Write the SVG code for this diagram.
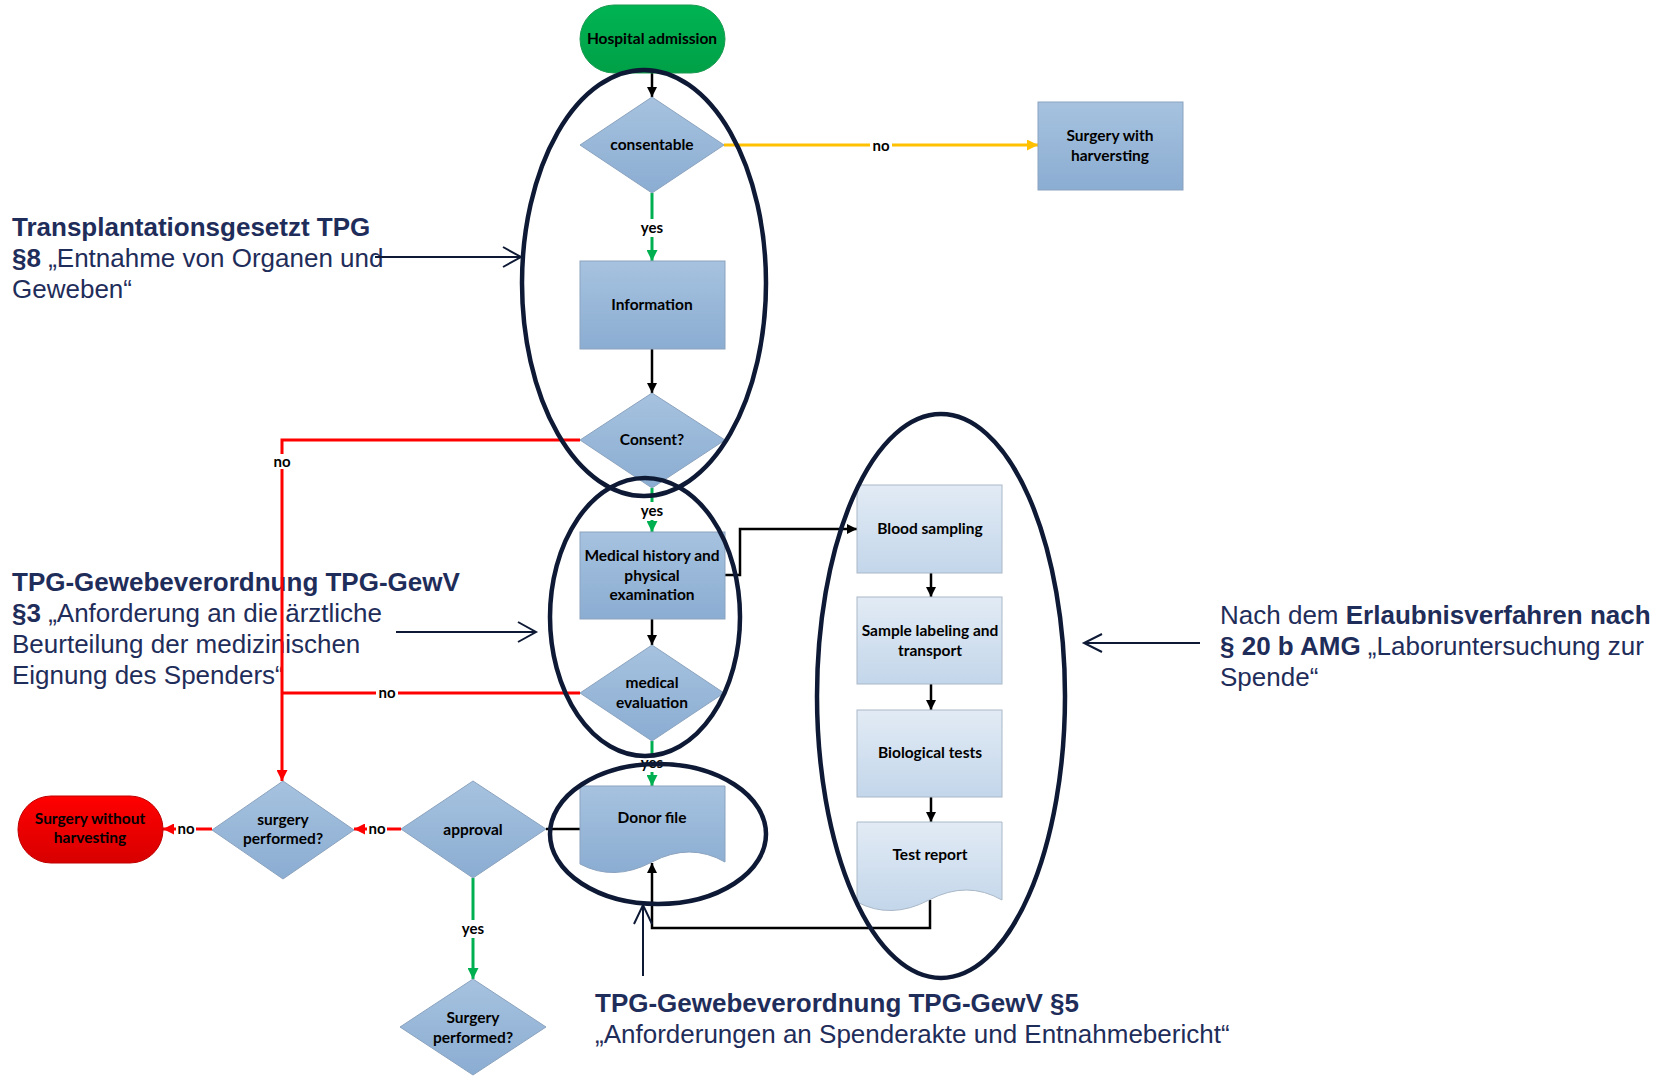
<svg xmlns="http://www.w3.org/2000/svg" width="1673" height="1076" viewBox="0 0 1673 1076">
<defs>
<linearGradient id="gBlue" x1="0" y1="0" x2="0" y2="1"><stop offset="0" stop-color="#a6c2df"/><stop offset="1" stop-color="#8badd2"/></linearGradient>
<linearGradient id="gLight" x1="0" y1="0" x2="0" y2="1"><stop offset="0" stop-color="#e2ebf5"/><stop offset="1" stop-color="#c3d6ea"/></linearGradient>
<linearGradient id="gGreen" x1="0" y1="0" x2="0" y2="1"><stop offset="0" stop-color="#00b453"/><stop offset="1" stop-color="#00a047"/></linearGradient>
<linearGradient id="gRed" x1="0" y1="0" x2="0" y2="1"><stop offset="0" stop-color="#ff0000"/><stop offset="1" stop-color="#d80000"/></linearGradient>
<marker id="mK" markerUnits="userSpaceOnUse" markerWidth="10" markerHeight="10" refX="10" refY="5" orient="auto"><path d="M0,0 L10,5 L0,10 Z" fill="#000"/></marker>
<marker id="mG" markerUnits="userSpaceOnUse" markerWidth="11" markerHeight="11" refX="11" refY="5.5" orient="auto"><path d="M0,0 L11,5.5 L0,11 Z" fill="#00b050"/></marker>
<marker id="mR" markerUnits="userSpaceOnUse" markerWidth="11" markerHeight="11" refX="11" refY="5.5" orient="auto"><path d="M0,0 L11,5.5 L0,11 Z" fill="#ff0000"/></marker>
<marker id="mY" markerUnits="userSpaceOnUse" markerWidth="11" markerHeight="11" refX="11" refY="5.5" orient="auto"><path d="M0,0 L11,5.5 L0,11 Z" fill="#ffc000"/></marker>
<style>
.h{font-family:"Liberation Sans",Arial,sans-serif;font-size:26px;fill:#1f2d5a}
.b{font-weight:700}
.t{font-family:Lato,"Liberation Sans",sans-serif;font-weight:700;font-size:15.5px;fill:#000;text-anchor:middle}
.lbl{font-family:Lato,"Liberation Sans",sans-serif;font-weight:700;font-size:15px;fill:#000;text-anchor:middle}
.lb{fill:#fff}
.nb{fill:url(#gBlue);stroke:#8ba3bf;stroke-width:1}
.nl{fill:url(#gLight);stroke:#a9b8c8;stroke-width:1}
.ck{fill:none;stroke:#000;stroke-width:2.5}
.cg{fill:none;stroke:#00b050;stroke-width:3}
.cr{fill:none;stroke:#ff0000;stroke-width:3}
.cy{fill:none;stroke:#ffc000;stroke-width:3}
.ell{fill:none;stroke:#0e1a35;stroke-width:4.5}
.pa{fill:none;stroke:#0e1a35;stroke-width:2}
</style>
</defs>
<rect width="1673" height="1076" fill="#fff"/>

<g id="law-texts">
<text class="h" x="12" y="236"><tspan class="b">Transplantationsgesetzt TPG</tspan></text>
<text class="h" x="12" y="267"><tspan class="b">§8</tspan> „Entnahme von Organen und</text>
<text class="h" x="12" y="298">Geweben“</text>
<text class="h" x="12" y="591"><tspan class="b">TPG-Gewebeverordnung TPG-GewV</tspan></text>
<text class="h" x="12" y="622"><tspan class="b">§3</tspan> „Anforderung an die ärztliche</text>
<text class="h" x="12" y="653">Beurteilung der medizinischen</text>
<text class="h" x="12" y="684">Eignung des Spenders“</text>
<text class="h" x="1220" y="624">Nach dem <tspan class="b">Erlaubnisverfahren nach</tspan></text>
<text class="h" x="1220" y="655"><tspan class="b">§ 20 b AMG</tspan> „Laboruntersuchung zur</text>
<text class="h" x="1220" y="686">Spende“</text>
<text class="h" x="595" y="1012"><tspan class="b">TPG-Gewebeverordnung TPG-GewV §5</tspan></text>
<text class="h" x="595" y="1043">„Anforderungen an Spenderakte und Entnahmebericht“</text>
</g>

<g id="connectors">
<path class="ck" d="M652,73 V97" marker-end="url(#mK)"/>
<path class="ck" d="M652,349 V393" marker-end="url(#mK)"/>
<path class="ck" d="M652,619 V645" marker-end="url(#mK)"/>
<path class="ck" d="M725,575 H740 V529 H857" marker-end="url(#mK)"/>
<path class="ck" d="M931,573 V597" marker-end="url(#mK)"/>
<path class="ck" d="M931,684 V710" marker-end="url(#mK)"/>
<path class="ck" d="M931,797 V822" marker-end="url(#mK)"/>
<path class="ck" d="M930,900 V928 H652 V863" marker-end="url(#mK)"/>
<path class="ck" d="M546,829 H580"/>
<path class="cg" d="M652,193 V261" marker-end="url(#mG)"/>
<path class="cg" d="M652,488 V532" marker-end="url(#mG)"/>
<path class="cg" d="M652,741 V786" marker-end="url(#mG)"/>
<path class="cg" d="M473,878 V979" marker-end="url(#mG)"/>
<path class="cy" d="M724,145 H1038" marker-end="url(#mY)"/>
<path class="cr" d="M580,440 H282 V781" marker-end="url(#mR)"/>
<path class="cr" d="M580,693 H282"/>
<path class="cr" d="M401,829 H354" marker-end="url(#mR)"/>
<path class="cr" d="M212,829 H163" marker-end="url(#mR)"/>
<rect class="lb" x="639" y="219" width="26" height="18"/><text class="lbl" x="652" y="233">yes</text>
<rect class="lb" x="639" y="502" width="26" height="18"/><text class="lbl" x="652" y="516">yes</text>
<rect class="lb" x="639" y="754" width="26" height="18"/><text class="lbl" x="652" y="768">yes</text>
<rect class="lb" x="460" y="920" width="26" height="18"/><text class="lbl" x="473" y="934">yes</text>
<rect class="lb" x="870" y="138" width="22" height="15"/><text class="lbl" x="881" y="151">no</text>
<rect class="lb" x="271" y="454" width="22" height="15"/><text class="lbl" x="282" y="467">no</text>
<rect class="lb" x="376" y="686" width="22" height="14"/><text class="lbl" x="387" y="698">no</text>
<rect class="lb" x="367" y="822" width="20" height="14"/><text class="lbl" x="377" y="834">no</text>
<rect class="lb" x="176" y="822" width="20" height="14"/><text class="lbl" x="186" y="834">no</text>
</g>

<g id="hospital-admission"><rect x="580" y="5" width="145" height="68" rx="34" fill="url(#gGreen)" stroke="#1a9a50"/><text class="t" x="652" y="44">Hospital admission</text></g>
<g id="consentable"><path class="nb" d="M652,97 L724,145 L652,193 L580,145 Z"/><text class="t" x="652" y="150">consentable</text></g>
<g id="surgery-with-harvesting"><rect class="nb" x="1038" y="102" width="145" height="88"/><text class="t" x="1110" y="141">Surgery with</text><text class="t" x="1110" y="161">harversting</text></g>
<g id="information"><rect class="nb" x="580" y="261" width="145" height="88"/><text class="t" x="652" y="310">Information</text></g>
<g id="consent"><path class="nb" d="M652,393 L725,440 L652,488 L580,440 Z"/><text class="t" x="652" y="445">Consent?</text></g>
<g id="medical-history"><rect class="nb" x="580" y="532" width="145" height="87"/><text class="t" x="652" y="561">Medical history and</text><text class="t" x="652" y="581">physical</text><text class="t" x="652" y="600">examination</text></g>
<g id="medical-evaluation"><path class="nb" d="M652,645 L724,693 L652,741 L580,693 Z"/><text class="t" x="652" y="688">medical</text><text class="t" x="652" y="708">evaluation</text></g>
<g id="donor-file"><path class="nb" d="M580,786 H725 V862 Q690,842 652,862 Q614,882 580,864 Z"/><text class="t" x="652" y="823">Donor file</text></g>
<g id="approval"><path class="nb" d="M473,781 L546,829 L473,878 L401,829 Z"/><text class="t" x="473" y="835">approval</text></g>
<g id="surgery-performed-1"><path class="nb" d="M283,781 L354,830 L283,879 L212,830 Z"/><text class="t" x="283" y="825">surgery</text><text class="t" x="283" y="844">performed?</text></g>
<g id="surgery-without-harvesting"><rect x="18" y="796" width="145" height="67" rx="33" fill="url(#gRed)" stroke="#c00000"/><text class="t" x="90" y="824">Surgery without</text><text class="t" x="90" y="843">harvesting</text></g>
<g id="surgery-performed-2"><path class="nb" d="M473,979 L546,1027 L473,1075 L400,1027 Z"/><text class="t" x="473" y="1023">Surgery</text><text class="t" x="473" y="1043">performed?</text></g>
<g id="blood-sampling"><rect class="nl" x="857" y="485" width="145" height="88"/><text class="t" x="930" y="534">Blood sampling</text></g>
<g id="sample-labeling"><rect class="nl" x="857" y="597" width="145" height="87"/><text class="t" x="930" y="636">Sample labeling and</text><text class="t" x="930" y="656">transport</text></g>
<g id="biological-tests"><rect class="nl" x="857" y="710" width="145" height="87"/><text class="t" x="930" y="758">Biological tests</text></g>
<g id="test-report"><path class="nl" d="M857,822 H1002 V900 Q967,880 929,900 Q891,920 857,902 Z"/><text class="t" x="930" y="860">Test report</text></g>

<g id="scope-ellipses">
<ellipse class="ell" cx="644" cy="283" rx="122" ry="213"/>
<ellipse class="ell" cx="645" cy="617" rx="95" ry="139"/>
<ellipse class="ell" cx="658" cy="834" rx="108" ry="70"/>
<ellipse class="ell" cx="941" cy="696" rx="124" ry="282"/>
</g>

<g id="law-pointers">
<path class="pa" d="M375,257 H520 M503,247 L521,257 L503,267"/>
<path class="pa" d="M396,632 H535 M518,622 L536,632 L518,642"/>
<path class="pa" d="M1200,643 H1085 M1102,634 L1084,643 L1102,652"/>
<path class="pa" d="M643,976 V906 M634,924 L643,905 L652,924"/>
</g>
</svg>
